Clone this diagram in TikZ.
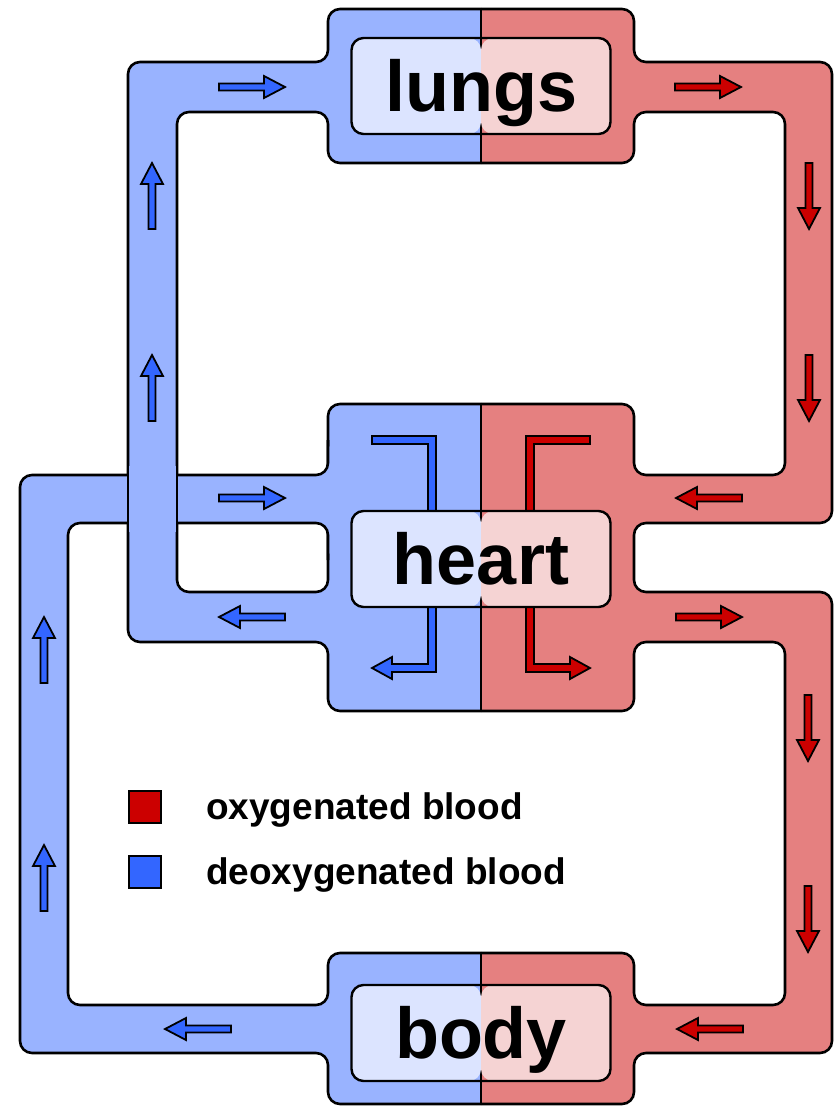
\documentclass[tikz,border=0pt]{standalone}
\usepackage{fontspec}
\setmainfont{Liberation Sans}
\usepackage{xcolor}
\usetikzlibrary{positioning}

\definecolor{vesselblue}{HTML}{99B3FF}
\definecolor{vesselred}{HTML}{E58080}
\definecolor{paleblue}{HTML}{DCE4FF}
\definecolor{palered}{HTML}{F5D3D3}
\definecolor{flowblue}{HTML}{3366FF}
\definecolor{flowred}{HTML}{CC0000}

\begin{document}
\begin{tikzpicture}[
    x=1pt, y=-1pt,
    vessel/.style={draw=black, line width=2.6pt, rounded corners=12pt},
    divider/.style={draw=black, line width=1.3pt},
    organ/.style={draw=black, line width=2.4pt, rounded corners=12pt, minimum width=259pt, minimum height=96pt, inner sep=0pt, text height=51pt, text depth=0pt, font=\fontsize{72pt}{80pt}\selectfont\bfseries,
        path picture={\fill[paleblue] (path picture bounding box.south west) rectangle (path picture bounding box.north);
                      \fill[palered] (path picture bounding box.north) rectangle (path picture bounding box.south east);}},
    swatch/.style={draw=black, line width=1.8pt, minimum size=32pt, inner sep=0pt},
    keytext/.style={anchor=base west, inner sep=0pt, font=\fontsize{37pt}{44pt}\selectfont\bfseries},
    flowb/.style={draw=black, line width=1.8pt, fill=flowblue},
    flowr/.style={draw=black, line width=1.8pt, fill=flowred},
    flowarrow/.pic={\path[pic actions] (-33,-3.5) -- (12,-3.5) -- (12,-11) -- (33,0) -- (12,11) -- (12,3.5) -- (-33,3.5) -- cycle;},
    bentarrow/.pic={\path[pic actions] (-60,-4) -- (4,-4) -- (4,232) -- (-40,232) -- (-40,239) -- (-60,228) -- (-40,217) -- (-40,224) -- (-4,224) -- (-4,4) -- (-60,4) -- cycle;},
]
\useasboundingbox (0,0) rectangle (834,1106);

% Oxygenated side (right halves)
\begin{scope}
\clip (481,0) rectangle (834,1106);
\filldraw[vessel, fill=vesselred] (400,9) -- (634,9) -- (634,62) -- (832,62) -- (832,523) -- (634,523) -- (634,592) -- (832,592) -- (832,1053) -- (634,1053) -- (634,1104) -- (400,1104) -- (400,953) -- (634,953) -- (634,1005) -- (785,1005) -- (785,642) -- (634,642) -- (634,711) -- (400,711) -- (400,404) -- (634,404) -- (634,475) -- (785,475) -- (785,112) -- (634,112) -- (634,163) -- (400,163) -- cycle;
\end{scope}

% Deoxygenated side (left halves)
\begin{scope}
\clip (0,0) rectangle (481,1106);
% heart to lungs
\filldraw[vessel, fill=vesselblue] (560,9) -- (328,9) -- (328,62) -- (128,62) -- (128,642) -- (328,642) -- (328,711) -- (560,711) -- (560,404) -- (328,404) -- (328,592) -- (177,592) -- (177,112) -- (328,112) -- (328,163) -- (560,163) -- cycle;
% body to heart
\fill[vesselblue, rounded corners=12pt] (328,440) -- (328,475) -- (20,475) -- (20,1053) -- (328,1053) -- (328,1104) -- (560,1104) -- (560,953) -- (328,953) -- (328,1005) -- (68,1005) -- (68,523) -- (328,523) -- (328,560) -- (400,560) -- (400,440) -- cycle;
\draw[vessel] (328,440) -- (328,475) -- (20,475) -- (20,1053) -- (328,1053) -- (328,1104) -- (560,1104) -- (560,953) -- (328,953) -- (328,1005) -- (68,1005) -- (68,523) -- (328,523) -- (328,560);
% crossing
\fill[vesselblue] (128,466) rectangle (177,532);
\draw[vessel] (128,466) -- (128,532) (177,466) -- (177,532);
\end{scope}

\draw[divider] (481,9) -- (481,163);
\draw[divider] (481,404) -- (481,711);
\draw[divider] (481,953) -- (481,1104);

% Flow arrows
\foreach \x/\y/\a in {252/87/0, 152/196/90, 152/388/90, 252/498/0, 252/617/180, 44/650/90, 44/878/90, 198/1029/180}
    \pic[flowb, rotate=\a] at (\x,\y) {flowarrow};
\foreach \x/\y/\a in {708/87/0, 809/196/-90, 809/388/-90, 709/498/180, 709/617/0, 808/728/-90, 808/919/-90, 710/1029/180}
    \pic[flowr, rotate=\a] at (\x,\y) {flowarrow};
\pic[flowb] at (432,440) {bentarrow};
\pic[flowr, xscale=-1] at (530,440) {bentarrow};

% Organs
\node[organ] (lungs) at (481,86) {lungs};
\node[organ] (heart) at (481,559) {heart};
\node[organ] (body) at (481,1033) {body};

% Legend
\node[swatch, fill=flowred] (oxykey) at (145,807) {};
\node[swatch, fill=flowblue] (deoxykey) at (145,872) {};
\node[keytext] (oxytext) at (206,819) {oxygenated blood};
\node[keytext] (deoxytext) at (206,884) {deoxygenated blood};

\end{tikzpicture}
\end{document}
